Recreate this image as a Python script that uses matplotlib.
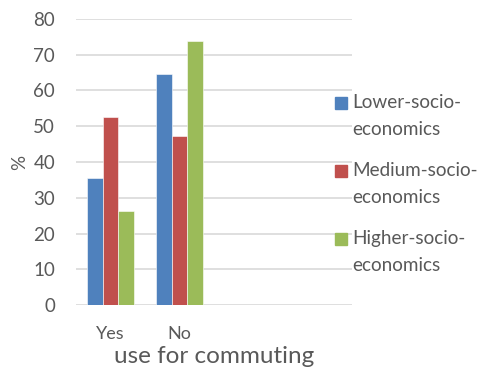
import numpy as np
import matplotlib
matplotlib.use("Agg")
import matplotlib.pyplot as plt
from matplotlib.patches import Rectangle

categories = ["Yes", "No"]
series_names = ["Lower-socio-economics", "Medium-socio-economics", "Higher-socio-economics"]
lower = [35.4, 64.6]
medium = [52.6, 47.3]
higher = [26.3, 73.7]
y_ticks = [0, 10, 20, 30, 40, 50, 60, 70, 80]

colors = ["#4F81BD", "#C0504D", "#9BBB59"]
text_color = "#595959"

plt.rcParams["font.family"] = ["Lato", "DejaVu Sans"]

fig = plt.figure(figsize=(4.83, 3.79), dpi=100)
ax = fig.add_axes([76 / 483, 1 - 305.3 / 379, 276 / 483, 286.6 / 379])

x = np.arange(len(categories))
width = 0.225
for i, (vals, color) in enumerate(zip([lower, medium, higher], colors)):
    ax.bar(x + (i - 1) * width, vals, width, color=color, edgecolor="white",
           linewidth=0.4, zorder=3)

ax.set_xlim(-0.5, 3.5)
ax.set_ylim(0, 80)
ax.set_yticks(y_ticks)
ax.set_xticks(x)
ax.set_xticklabels(categories)
ax.yaxis.grid(True, color="#D9D9D9", linewidth=1.2, zorder=0)
ax.set_axisbelow(True)
for s in ax.spines.values():
    s.set_visible(False)
ax.tick_params(axis="y", length=0, pad=15, labelsize=13.5, labelcolor=text_color)
ax.tick_params(axis="x", length=0, pad=15, labelsize=13, labelcolor=text_color)
ax.set_ylabel("%", fontsize=13.5, color=text_color, labelpad=4)
ax.set_xlabel("use for commuting", fontsize=17.5, color=text_color, labelpad=3)

# legend, drawn by hand so the square sits next to the first line
sq = 12
for i, (name, color) in enumerate(zip(series_names, colors)):
    yc = 102.7 + i * 68
    fig.patches.append(Rectangle((335 / 483, 1 - (yc + sq / 2) / 379), sq / 483, sq / 379,
                                 transform=fig.transFigure, color=color))
    first, second = name.split("socio-")
    fig.text(352 / 483, 1 - yc / 379, first + "socio-", fontsize=13.6, color=text_color,
             va="center")
    fig.text(352 / 483, 1 - (yc + 27) / 379, second, fontsize=13.6, color=text_color,
             va="center")

fig.savefig("out.png", dpi=100)
